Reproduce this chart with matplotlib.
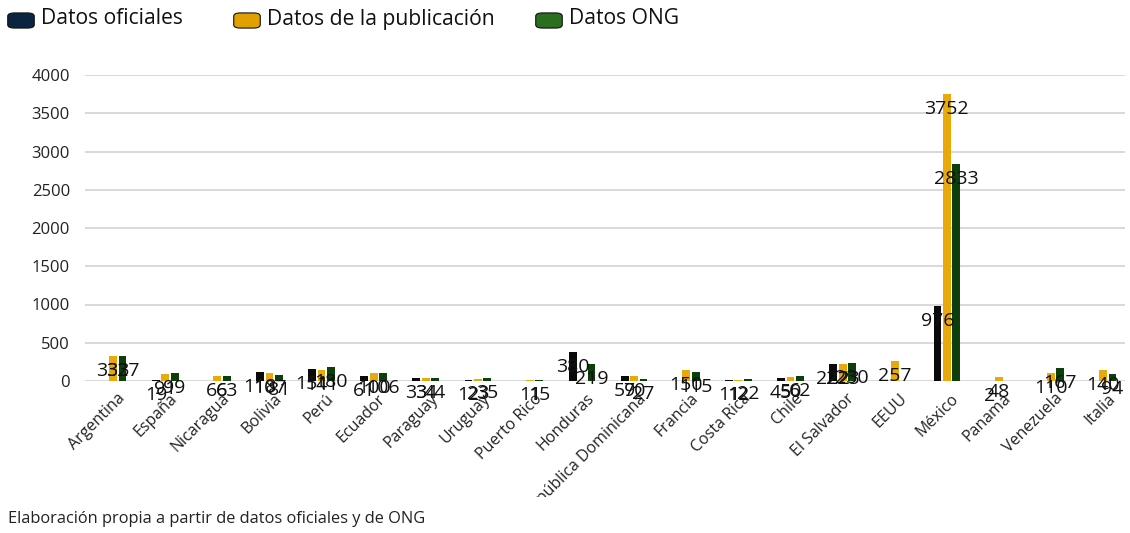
import numpy as np
import matplotlib
matplotlib.use("Agg")
import matplotlib.pyplot as plt
from matplotlib.patches import FancyBboxPatch
from matplotlib.transforms import Bbox, TransformedBbox, ScaledTranslation

plt.rcParams['font.family'] = ['Open Sans', 'DejaVu Sans']

countries = ["Argentina", "España", "Nicaragua", "Bolivia", "Perú", "Ecuador", "Paraguay",
             "Uruguay", "Puerto Rico", "Honduras", "República Dominicana", "Francia",
             "Costa Rica", "Chile", "El Salvador", "EEUU", "México", "Panamá",
             "Venezuela", "Italia"]
# estimated values (None = no data)
oficiales = [None, 19, None, 118, 151, 61, 33, 12, None, 380, 59, None, 11, 45, 222, None, 976, 2, None, None]
publicacion = [333, 91, 66, 107, 141, 100, 34, 23, 11, None, 70, 150, 12, 50, 223, 257, 3752, 48, 110, 140]
ong = [327, 99, 63, 81, 180, 106, 44, 35, 15, 219, 27, 115, 22, 62, 230, None, 2833, None, 167, 94]

series_names = ["Datos oficiales", "Datos de la publicación", "Datos ONG"]
series_values = [oficiales, publicacion, ong]
bar_colors = ["#0a0a0a", "#eaa90a", "#0d3f0d"]
legend_colors = ["#0b2440", "#e0a000", "#2c6e1f"]
yticks = [0, 500, 1000, 1500, 2000, 2500, 3000, 3500, 4000]
footer = "Elaboración propia a partir de datos oficiales y de ONG"

W, H = 1130, 533
fig = plt.figure(figsize=(W / 100, H / 100), dpi=100)
ax = fig.add_axes([85 / W, (H - 381) / H, (1125 - 85) / W, (381 - 75) / H])

n = len(countries)
x = np.arange(n)
bw = 0.15
offsets = [-0.18, 0, 0.18]

for vals, col, off in zip(series_values, bar_colors, offsets):
    v = np.array([np.nan if a is None else a for a in vals], dtype=float)
    ax.bar(x + off, np.nan_to_num(v), width=bw, color=col, zorder=3)

# data labels
for vals, off in zip(series_values, offsets):
    for i, a in enumerate(vals):
        if a is None:
            continue
        ax.annotate(str(a), (x[i] + off, a), xytext=(0, -15), textcoords="offset pixels",
                    ha="center", va="center", fontsize=14, color="#111111", zorder=5)

ax.set_ylim(0, 4000)
ax.set_xlim(-0.54, n - 1 + 0.42)
ax.set_yticks(yticks)
ax.set_yticklabels([str(t) for t in yticks], fontsize=12, color="#222222")
ax.grid(axis="y", color="#d6d6d6", linewidth=1.3, zorder=0)
ax.set_axisbelow(True)
for s in ax.spines.values():
    s.set_visible(False)
ax.tick_params(axis="y", length=0, pad=10.8)
ax.set_xticks(x)
ax.set_xticklabels(countries, rotation=45, ha="right", rotation_mode="anchor",
                   fontsize=11.5, color="#222222")
ax.tick_params(axis="x", length=0, pad=7)

clip = TransformedBbox(Bbox([[0, (H - 497) / H], [1, 1]]), fig.transFigure)
shift = ScaledTranslation(4 / 100, 0, fig.dpi_scale_trans)
for lab in ax.get_xticklabels():
    lab.set_transform(lab.get_transform() + shift)
    lab.set_clip_on(True)
    lab.set_clip_box(clip)

# legend
lx = [10, 236, 538]
for name, col, x0 in zip(series_names, legend_colors, lx):
    p = FancyBboxPatch((x0 / W, (H - 27) / H), 22 / W, 13 / H,
                       boxstyle="round,pad=0.002,rounding_size=0.006",
                       transform=fig.transFigure, facecolor=col, edgecolor="#111111",
                       linewidth=0.8)
    fig.patches.append(p)
    fig.text((x0 + 31) / W, (H - 19) / H, name, fontsize=15.2, va="center",
             ha="left", color="#111111")

fig.text(8 / W, (H - 519) / H, footer, fontsize=11.8, va="center", ha="left", color="#222222")

fig.savefig("out.png", dpi=100)
